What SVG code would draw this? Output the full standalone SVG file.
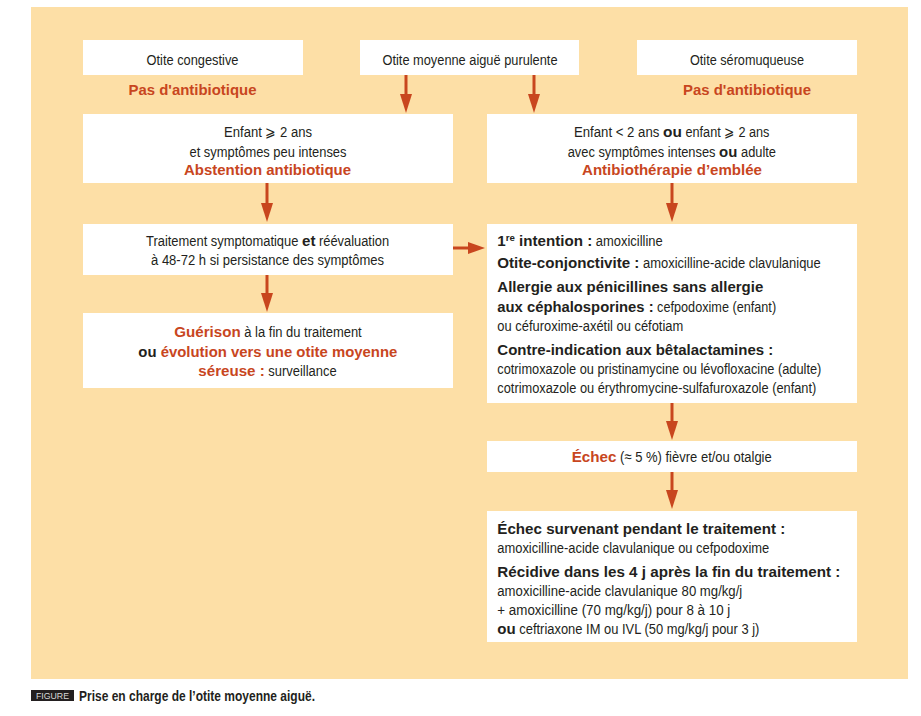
<svg xmlns="http://www.w3.org/2000/svg" width="921" height="716" viewBox="0 0 921 716">
<defs>
<style>
.bg{fill:#fddfa6}
.box{fill:#ffffff}
text{font-family:"Liberation Sans",Arial,sans-serif;fill:#231f20}
.t{font-size:15.5px}
.b{font-weight:bold;font-size:14px}
.c{text-anchor:middle}
.o{fill:#c8461e}
.ar{stroke:#c8461e;stroke-width:3;fill:none}
.hd{fill:#c8461e}
</style>
</defs>
<rect class="bg" x="31" y="7" width="877" height="672"/>
<g id="otite-congestive">
<rect class="box" x="83" y="40" width="220" height="35"/>
<text class="t c" transform="translate(192.5,65) scale(0.85,1)" textLength="108.2" lengthAdjust="spacingAndGlyphs">Otite congestive</text>
<text class="b c o" transform="translate(192.5,95) scale(1.1,1)" textLength="116.4" lengthAdjust="spacingAndGlyphs">Pas d'antibiotique</text>
</g>
<g id="otite-purulente">
<rect class="box" x="360" y="40" width="219" height="35"/>
<text class="t c" transform="translate(470,65) scale(0.85,1)" textLength="205.9" lengthAdjust="spacingAndGlyphs">Otite moyenne aiguë purulente</text>
</g>
<g id="otite-seromuqueuse">
<rect class="box" x="637" y="40" width="220" height="35"/>
<text class="t c" transform="translate(747,65) scale(0.85,1)" textLength="134.1" lengthAdjust="spacingAndGlyphs">Otite séromuqueuse</text>
<text class="b c o" transform="translate(747,95) scale(1.1,1)" textLength="116.4" lengthAdjust="spacingAndGlyphs">Pas d'antibiotique</text>
</g>
<g id="enfant-sup2">
<rect class="box" x="83" y="114" width="370" height="69"/>
<text class="t c" transform="translate(268,137) scale(0.85,1)" textLength="103.5" lengthAdjust="spacingAndGlyphs">Enfant ⩾ 2 ans</text>
<text class="t c" transform="translate(268,157) scale(0.85,1)" textLength="184.7" lengthAdjust="spacingAndGlyphs">et symptômes peu intenses</text>
<text class="b c o" transform="translate(267.5,175) scale(1.1,1)" textLength="151.8" lengthAdjust="spacingAndGlyphs">Abstention antibiotique</text>
</g>
<g id="enfant-inf2">
<rect class="box" x="487" y="114" width="370" height="69"/>
<text class="t" transform="translate(574,137) scale(0.85,1)" textLength="100.4" lengthAdjust="spacingAndGlyphs">Enfant &lt; 2 ans</text>
<text class="b" transform="translate(663,137) scale(1.1,1)" textLength="17.1" lengthAdjust="spacingAndGlyphs">ou</text>
<text class="t" transform="translate(685.5,137) scale(0.85,1)" textLength="98.7" lengthAdjust="spacingAndGlyphs">enfant ⩾ 2 ans</text>
<text class="t" transform="translate(567.7,157) scale(0.85,1)" textLength="173.9" lengthAdjust="spacingAndGlyphs">avec symptômes intenses</text>
<text class="b" transform="translate(719.1,157) scale(1.1,1)" textLength="16.6" lengthAdjust="spacingAndGlyphs">ou</text>
<text class="t" transform="translate(741,157) scale(0.85,1)" textLength="41.2" lengthAdjust="spacingAndGlyphs">adulte</text>
<text class="b c o" transform="translate(672,175) scale(1.1,1)" textLength="163.6" lengthAdjust="spacingAndGlyphs">Antibiothérapie d’emblée</text>
</g>
<g id="traitement-symptomatique">
<rect class="box" x="83" y="224" width="370" height="51"/>
<text class="t" transform="translate(146,246) scale(0.85,1)" textLength="179.3" lengthAdjust="spacingAndGlyphs">Traitement symptomatique</text>
<text class="b" transform="translate(302,246) scale(1.1,1)" textLength="12.2" lengthAdjust="spacingAndGlyphs">et</text>
<text class="t" transform="translate(319,246) scale(0.85,1)" textLength="82.5" lengthAdjust="spacingAndGlyphs">réévaluation</text>
<text class="t c" transform="translate(267.5,265) scale(0.85,1)" textLength="274.1" lengthAdjust="spacingAndGlyphs">à 48-72 h si persistance des symptômes</text>
</g>
<g id="guerison">
<rect class="box" x="83" y="313" width="370" height="75"/>
<text class="b o" transform="translate(174.3,337) scale(1.1,1)" textLength="60.4" lengthAdjust="spacingAndGlyphs">Guérison</text>
<text class="t" transform="translate(244.3,337) scale(0.85,1)" textLength="138.1" lengthAdjust="spacingAndGlyphs">à la fin du traitement</text>
<text class="b c" transform="translate(267.8,357) scale(1.1,1)" textLength="235.5" lengthAdjust="spacingAndGlyphs">ou <tspan class="o">évolution vers une otite moyenne</tspan></text>
<text class="b o" transform="translate(198.3,376) scale(1.1,1)" textLength="60.4" lengthAdjust="spacingAndGlyphs">séreuse :</text>
<text class="t" transform="translate(268.3,376) scale(0.85,1)" textLength="80.4" lengthAdjust="spacingAndGlyphs">surveillance</text>
</g>
<g id="antibiotherapie">
<rect class="box" x="487" y="224" width="370" height="179"/>
<text class="b" transform="translate(497.3,246) scale(1.1,1)" textLength="86.3" lengthAdjust="spacingAndGlyphs">1<tspan font-size="9" dy="-5">re</tspan><tspan dy="5"> intention :</tspan></text>
<text class="t" transform="translate(595.8,246) scale(0.85,1)" textLength="78.7" lengthAdjust="spacingAndGlyphs">amoxicilline</text>
<text class="b" transform="translate(497.3,268) scale(1.1,1)" textLength="129.2" lengthAdjust="spacingAndGlyphs">Otite-conjonctivite :</text>
<text class="t" transform="translate(643,268) scale(0.85,1)" textLength="209.1" lengthAdjust="spacingAndGlyphs">amoxicilline-acide clavulanique</text>
<text class="b" transform="translate(497.3,292) scale(1.1,1)" textLength="241.8" lengthAdjust="spacingAndGlyphs">Allergie aux pénicillines sans allergie</text>
<text class="b" transform="translate(497.3,312) scale(1.1,1)" textLength="142.1" lengthAdjust="spacingAndGlyphs">aux céphalosporines :</text>
<text class="t" transform="translate(657.1,312) scale(0.85,1)" textLength="140" lengthAdjust="spacingAndGlyphs">cefpodoxime (enfant)</text>
<text class="t" transform="translate(497.3,331) scale(0.85,1)" textLength="218.8" lengthAdjust="spacingAndGlyphs">ou céfuroxime-axétil ou céfotiam</text>
<text class="b" transform="translate(497.3,355) scale(1.1,1)" textLength="250.9" lengthAdjust="spacingAndGlyphs">Contre-indication aux bêtalactamines :</text>
<text class="t" transform="translate(497.3,374) scale(0.85,1)" textLength="381.2" lengthAdjust="spacingAndGlyphs">cotrimoxazole ou pristinamycine ou lévofloxacine (adulte)</text>
<text class="t" transform="translate(497.3,393) scale(0.85,1)" textLength="375.3" lengthAdjust="spacingAndGlyphs">cotrimoxazole ou érythromycine-sulfafuroxazole (enfant)</text>
</g>
<g id="echec">
<rect class="box" x="487" y="441" width="370" height="31"/>
<text class="b o" transform="translate(571.7,462) scale(1.1,1)" textLength="40.7" lengthAdjust="spacingAndGlyphs">Échec</text>
<text class="t" transform="translate(620.1,462) scale(0.85,1)" textLength="178.4" lengthAdjust="spacingAndGlyphs">(≈ 5 %) fièvre et/ou otalgie</text>
</g>
<g id="echec-traitement">
<rect class="box" x="487" y="511" width="370" height="131"/>
<text class="b" transform="translate(497.3,534) scale(1.1,1)" textLength="261.8" lengthAdjust="spacingAndGlyphs">Échec survenant pendant le traitement :</text>
<text class="t" transform="translate(497.3,553) scale(0.85,1)" textLength="320" lengthAdjust="spacingAndGlyphs">amoxicilline-acide clavulanique ou cefpodoxime</text>
<text class="b" transform="translate(497.3,577) scale(1.1,1)" textLength="311.8" lengthAdjust="spacingAndGlyphs">Récidive dans les 4 j après la fin du traitement :</text>
<text class="t" transform="translate(497.3,596) scale(0.85,1)" textLength="288.2" lengthAdjust="spacingAndGlyphs">amoxicilline-acide clavulanique 80 mg/kg/j</text>
<text class="t" transform="translate(497.3,615) scale(0.85,1)" textLength="274.1" lengthAdjust="spacingAndGlyphs">+ amoxicilline (70 mg/kg/j) pour 8 à 10 j</text>
<text class="b" transform="translate(497.3,634) scale(1.1,1)" textLength="16.7" lengthAdjust="spacingAndGlyphs">ou</text>
<text class="t" transform="translate(519.3,634) scale(0.85,1)" textLength="282.4" lengthAdjust="spacingAndGlyphs">ceftriaxone IM ou IVL (50 mg/kg/j pour 3 j)</text>
</g>
<g id="connectors">
<line class="ar" x1="406" y1="75" x2="406" y2="95"/>
<polygon class="hd" points="400,94 412,94 406,113"/>
<line class="ar" x1="534" y1="75" x2="534" y2="95"/>
<polygon class="hd" points="528,94 540,94 534,113"/>
<line class="ar" x1="267" y1="183" x2="267" y2="204"/>
<polygon class="hd" points="261,203 273,203 267,222"/>
<line class="ar" x1="672" y1="183" x2="672" y2="204"/>
<polygon class="hd" points="666,203 678,203 672,222"/>
<line class="ar" x1="267" y1="275" x2="267" y2="294"/>
<polygon class="hd" points="261,293 273,293 267,312"/>
<line class="ar" x1="453" y1="248" x2="469" y2="248"/>
<polygon class="hd" points="468,242 468,254 485,248"/>
<line class="ar" x1="672" y1="403" x2="672" y2="422"/>
<polygon class="hd" points="666,421 678,421 672,440"/>
<line class="ar" x1="672" y1="472" x2="672" y2="491"/>
<polygon class="hd" points="666,490 678,490 672,509"/>
</g>
<g id="caption">
<rect x="31" y="690" width="43" height="11" fill="#231f20"/>
<text class="c" transform="translate(52.5,699) scale(0.85,1)" font-size="9.5" style="fill:#d8d8d8" textLength="38.8" lengthAdjust="spacingAndGlyphs">FIGURE</text>
<text transform="translate(79,701) scale(0.86,1)" font-weight="bold" font-size="14" textLength="274.4" lengthAdjust="spacingAndGlyphs">Prise en charge de l’otite moyenne aiguë.</text>
</g>
</svg>
